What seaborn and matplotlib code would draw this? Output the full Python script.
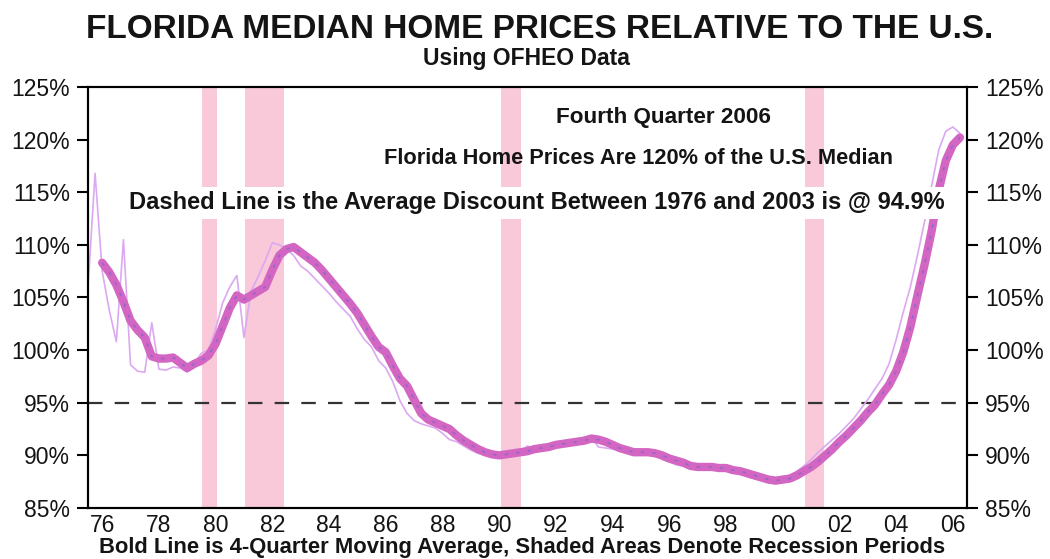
import numpy as np
import pandas as pd
import matplotlib.pyplot as plt
import seaborn as sns

# Florida / U.S. median home price ratio (%), quarterly 1976Q1 - 2006Q4
years = list(range(1976, 2007))
raw_ratio = [
    106.0, 116.8, 107.5, 103.8,   # 1976
    100.8, 110.5, 98.6, 98.0,     # 1977
    97.9, 102.6, 98.2, 98.1,      # 1978
    98.4, 98.3, 97.9, 98.8,       # 1979
    99.7, 100.0, 102.0, 104.5,    # 1980
    106.0, 107.1, 101.2, 105.6,   # 1981
    107.0, 108.5, 110.2, 110.0,   # 1982
    109.6, 109.0, 108.0, 107.5,   # 1983
    106.8, 106.1, 105.4, 104.6,   # 1984
    103.9, 103.2, 102.0, 101.0,   # 1985
    100.3, 99.0, 98.3, 97.0,      # 1986
    95.2, 94.0, 93.3, 93.0,       # 1987
    92.8, 92.6, 92.1, 91.5,       # 1988
    91.3, 90.9, 90.5, 90.2,       # 1989
    90.1, 90.0, 90.1, 90.3,       # 1990
    90.5, 90.4, 90.9, 90.6,       # 1991
    90.8, 91.0, 91.0, 91.3,       # 1992
    91.2, 91.5, 91.7, 91.8,       # 1993
    90.8, 90.7, 90.6, 90.5,       # 1994
    90.4, 90.1, 90.3, 90.4,       # 1995
    90.0, 89.6, 89.4, 89.1,       # 1996
    89.0, 88.8, 89.0, 88.8,       # 1997
    89.1, 88.9, 88.7, 88.5,       # 1998
    88.3, 88.0, 87.8, 87.6,       # 1999
    87.5, 87.5, 87.8, 88.1,       # 2000
    88.5, 89.0, 89.6, 90.3,       # 2001
    90.9, 91.5, 92.1, 92.8,       # 2002
    93.5, 94.4, 95.3, 96.3,       # 2003
    97.3, 98.7, 101.0, 103.6,     # 2004
    106.0, 109.0, 112.2, 115.6,   # 2005
    119.0, 120.8, 121.2, 120.6,   # 2006
]

# 4-quarter moving average, starts 1976Q3
ma_ratio = [
    108.3, 107.4,                 # 1976
    106.2, 104.6, 102.8, 101.9,   # 1977
    101.2, 99.4, 99.2, 99.2,      # 1978
    99.3, 98.8, 98.3, 98.7,       # 1979
    99.0, 99.5, 100.6, 102.3,     # 1980
    104.0, 105.2, 104.8, 105.2,   # 1981
    105.6, 106.0, 107.6, 109.0,   # 1982
    109.6, 109.8, 109.3, 108.8,   # 1983
    108.3, 107.6, 106.8, 106.0,   # 1984
    105.2, 104.4, 103.5, 102.4,   # 1985
    101.3, 100.3, 99.8, 98.5,     # 1986
    97.3, 96.6, 95.3, 94.0,       # 1987
    93.4, 93.1, 92.8, 92.5,       # 1988
    91.9, 91.4, 91.0, 90.6,       # 1989
    90.3, 90.1, 90.0, 90.1,       # 1990
    90.2, 90.3, 90.4, 90.6,       # 1991
    90.7, 90.8, 91.0, 91.1,       # 1992
    91.2, 91.3, 91.4, 91.6,       # 1993
    91.5, 91.3, 91.0, 90.7,       # 1994
    90.5, 90.3, 90.3, 90.3,       # 1995
    90.2, 90.0, 89.7, 89.5,       # 1996
    89.3, 89.0, 88.9, 88.9,       # 1997
    88.9, 88.8, 88.8, 88.6,       # 1998
    88.5, 88.3, 88.1, 87.9,       # 1999
    87.7, 87.6, 87.7, 87.8,       # 2000
    88.1, 88.5, 88.9, 89.4,       # 2001
    90.0, 90.6, 91.3, 91.9,       # 2002
    92.6, 93.3, 94.1, 94.8,       # 2003
    95.8, 96.7, 98.0, 99.8,       # 2004
    102.2, 105.2, 108.1, 111.3,   # 2005
    115.2, 118.0, 119.5, 120.2,   # 2006
]

recessions = [(1980.03, 1980.56), (1981.55, 1982.9), (1990.56, 1991.27), (2001.27, 2001.94)]
avg_line = 95.0
y_ticks = [85, 90, 95, 100, 105, 110, 115, 120, 125]
x_label_years = list(range(1976, 2007, 2))

quarters = pd.period_range("1976Q1", "2006Q4", freq="Q")
t = quarters.year + (quarters.quarter - 1) / 4.0
raw_df = pd.DataFrame({"t": t, "ratio": raw_ratio})
ma_df = pd.DataFrame({"t": t[2:], "ratio": ma_ratio})

sns.set_style("white")
plt.rcParams["font.family"] = ["Liberation Sans", "DejaVu Sans"]
ink = "#141414"

fig = plt.figure(figsize=(10.5, 5.59), dpi=100)
ax = fig.add_axes([0.0838, 0.0912, 0.8372, 0.7532])

for a, b in recessions:
    ax.axvspan(a, b, color="#f9c8d9", lw=0, zorder=0)

ax.axhline(avg_line, color="#333333", lw=1.6, dashes=(6.5, 5.5), zorder=1)

sns.lineplot(data=raw_df, x="t", y="ratio", ax=ax, color="#dca8f2", lw=1.2, zorder=2)
sns.lineplot(data=ma_df, x="t", y="ratio", ax=ax, color="#d266c2", lw=6,
             solid_capstyle="round", solid_joinstyle="round", zorder=3)
sns.lineplot(data=ma_df, x="t", y="ratio", ax=ax, color="#9466c8", lw=1.2,
             linestyle=(0, (2, 5)), zorder=4)

ax.set_xlim(1976, 2007)
ax.set_ylim(85, 125)
ax.set_xlabel("")
ax.set_ylabel("")

# year ticks inside, labels centred between ticks
ax.set_xticks(range(1977, 2007))
ax.set_xticklabels([])
ax.set_xticks([y + 0.5 for y in x_label_years], minor=True)
ax.set_xticklabels([str(y)[2:] for y in x_label_years], minor=True, fontsize=16.5, color=ink)
ax.tick_params(axis="x", which="major", direction="in", length=7, width=1.5, color="black")
ax.tick_params(axis="x", which="minor", length=0, pad=4)

ylabels = [f"{v}%" for v in y_ticks]
ax.set_yticks(y_ticks)
ax.set_yticklabels(ylabels, fontsize=16.5, color=ink)
ax.tick_params(axis="y", direction="out", length=8, width=1.5, color="black", pad=5, left=True)

ax2 = ax.twinx()
ax2.set_ylim(85, 125)
ax2.set_yticks(y_ticks)
ax2.set_yticklabels(ylabels, fontsize=16.5, color=ink)
ax2.tick_params(axis="y", direction="out", length=8, width=1.5, color="black", pad=5, right=True)

for a in (ax, ax2):
    for s in a.spines.values():
        s.set_visible(True)
        s.set_color("black")
        s.set_linewidth(1.5)

# annotations inside the plot
fig.text(664 / 1050, 1 - 117 / 559, "Fourth Quarter 2006", ha="center", va="center",
         fontsize=16.2, fontweight="bold", color=ink)
fig.text(639 / 1050, 1 - 158 / 559, "Florida Home Prices Are 120% of the U.S. Median",
         ha="center", va="center", fontsize=15.7, fontweight="bold", color=ink)
fig.text(537 / 1050, 1 - 203 / 559,
         "Dashed Line is the Average Discount Between 1976 and 2003 is @ 94.9%",
         ha="center", va="center", fontsize=17, fontweight="bold", color=ink,
         bbox=dict(facecolor="white", edgecolor="none", pad=3))

fig.text(540 / 1050, 1 - 30 / 559, "FLORIDA MEDIAN HOME PRICES RELATIVE TO THE U.S.",
         ha="center", va="center", fontsize=24, fontweight="bold", color=ink)
fig.text(526 / 1050, 1 - 58 / 559, "Using OFHEO Data", ha="center", va="center",
         fontsize=16.5, fontweight="bold", color=ink)
fig.text(522 / 1050, 1 - 548 / 559,
         "Bold Line is 4-Quarter Moving Average, Shaded Areas Denote Recession Periods",
         ha="center", va="center", fontsize=15.8, fontweight="bold", color=ink)

fig.savefig("out.png", dpi=100, facecolor="white")
